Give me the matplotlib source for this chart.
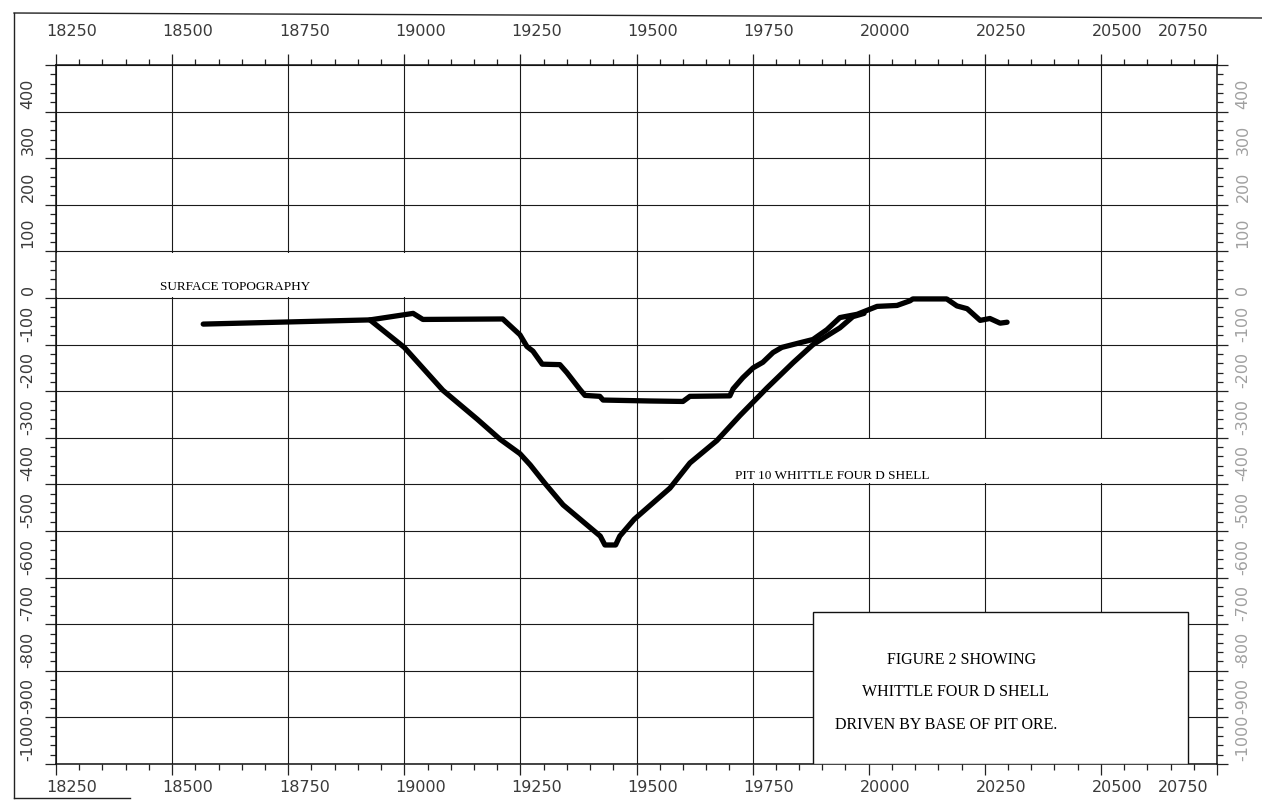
import matplotlib
matplotlib.use("Agg")
import matplotlib.pyplot as plt
import matplotlib.transforms as mtransforms
from matplotlib.patches import Rectangle
from matplotlib.lines import Line2D

# eastings along the section line and the tick labels
x_ticks = [18250, 18500, 18750, 19000, 19250, 19500, 19750, 20000, 20250, 20500, 20750]
x_labels = ["18250", "18500", "18750", "19000", "19250", "19500", "19750", "20000", "20250", "20500", "20750"]
y_ticks = [-1000, -900, -800, -700, -600, -500, -400, -300, -200, -100, 0, 100, 200, 300, 400]
y_labels = ["-1000", "-900", "-800", "-700", "-600", "-500", "-400", "-300", "-200", "-100", "0", "100", "200", "300", "400"]

# surface topography
topo_x = [18567, 18926, 19019, 19040, 19212, 19249, 19264, 19277, 19297, 19335, 19350, 19378,
          19389, 19421, 19428, 19529, 19600, 19615, 19701, 19708, 19729, 19751, 19772, 19794,
          19813, 19852, 19880, 19910, 19938, 19975, 20018, 20061, 20089, 20095, 20168, 20190,
          20212, 20240, 20261, 20283, 20298]
topo_y = [-56, -47, -33, -46, -45, -79, -104, -114, -142, -143, -160, -196,
          -209, -211, -219, -221, -222, -211, -210, -195, -171, -150, -138, -117,
          -106, -96, -89, -68, -42, -35, -18, -16, -6, -2, -2, -17,
          -23, -48, -44, -54, -52]

# pit 10 whittle four D shell
pit_x = [18926, 19000, 19083, 19157, 19206, 19249, 19271, 19303, 19342, 19422, 19432, 19455,
         19464, 19495, 19572, 19615, 19673, 19723, 19781, 19837, 19880, 19938, 19966, 19990]
pit_y = [-47, -106, -198, -260, -303, -334, -358, -398, -444, -511, -530, -530,
         -511, -475, -408, -354, -306, -252, -193, -139, -100, -64, -40, -33]

W, H = 1262, 805
fig = plt.figure(figsize=(W / 100, H / 100), dpi=100)
ax = fig.add_axes([56 / W, 1 - 764 / H, (1217 - 56) / W, (764 - 65) / H])
ax.set_xlim(18250, 20750)
ax.set_ylim(-1000, 500)

ax.set_xticks(x_ticks)
ax.set_yticks(y_ticks + [500])
ax.set_xticks(range(18250, 20751, 50), minor=True)
ax.set_yticks(range(-1000, 501, 20), minor=True)
ax.tick_params(which="both", direction="out", top=True, right=True,
               labelbottom=False, labelleft=False, color="#222222", width=0.9)
ax.tick_params(which="major", length=8)
ax.tick_params(which="minor", length=4)
ax.grid(True, which="major", color="#1a1a1a", lw=0.8)
ax.set_axisbelow(True)
for sp in ax.spines.values():
    sp.set_linewidth(1.1)
    sp.set_color("#111111")

# blank label rows (no vertical grid there)
ax.add_patch(Rectangle((18250, 3), 1000, 94, fc="white", ec="none", zorder=1))
ax.add_patch(Rectangle((19560, -397), 1190, 94, fc="white", ec="none", zorder=1))

ax.plot(topo_x, topo_y, color="black", lw=3.8, solid_joinstyle="round", solid_capstyle="round", zorder=3)
ax.plot(pit_x, pit_y, color="black", lw=3.8, solid_joinstyle="round", solid_capstyle="round", zorder=3)

serif = "Liberation Serif"
ax.text(18474, 24, "SURFACE TOPOGRAPHY", family=serif, fontsize=9.5, ha="left", va="center", zorder=4)
ax.text(19712, -381, "PIT 10 WHITTLE FOUR D SHELL", family=serif, fontsize=9.5, ha="left", va="center", zorder=4)

# caption box
ax.add_patch(Rectangle((0.652, 0.0), 0.323, 0.2175, transform=ax.transAxes,
                       fc="white", ec="#111111", lw=1.0, zorder=5))
cap = ["FIGURE 2 SHOWING", "WHITTLE FOUR D SHELL", "DRIVEN BY BASE OF PIT ORE."]
cap_x = [0.780, 0.775, 0.767]
cap_y = [0.149, 0.103, 0.056]
for t, cx, cy in zip(cap, cap_x, cap_y):
    ax.text(cx, cy, t, transform=ax.transAxes, family=serif, fontsize=11.5,
            ha="center", va="center", zorder=6)

# x tick labels, top and bottom
x_off = [16] * 10 + [-34]
for v, lab, off in zip(x_ticks, x_labels, x_off):
    for fy in (1 - 32 / H, 1 - 787 / H):
        tr = mtransforms.blended_transform_factory(ax.transData, fig.transFigure)
        tr = mtransforms.offset_copy(tr, fig=fig, x=off, y=0, units="dots")
        ax.text(v, fy, lab, transform=tr, fontsize=11.5, color="#3a3a3a",
                ha="center", va="center", clip_on=False)

# y tick labels, rotated, left (dark) and right (faded)
for v, lab in zip(y_ticks, y_labels):
    for fx, col in ((28 / W, "#3a3a3a"), (1243 / W, "#a0a0a0")):
        tr = mtransforms.blended_transform_factory(fig.transFigure, ax.transData)
        tr = mtransforms.offset_copy(tr, fig=fig, x=0, y=3, units="dots")
        ax.text(fx, v, lab, transform=tr, fontsize=11.5, color=col, rotation=90,
                ha="center", va="bottom", clip_on=False)

# scanned page frame
fig.add_artist(Line2D([14 / W, 14 / W], [1 - 13 / H, 1 - 798 / H], color="#222222", lw=1.0))
fig.add_artist(Line2D([14 / W, 1.0], [1 - 13 / H, 1 - 18 / H], color="#222222", lw=1.0))
fig.add_artist(Line2D([14 / W, 130 / W], [1 - 798 / H, 1 - 798 / H], color="#222222", lw=1.0))

fig.savefig("out.png", dpi=100)
